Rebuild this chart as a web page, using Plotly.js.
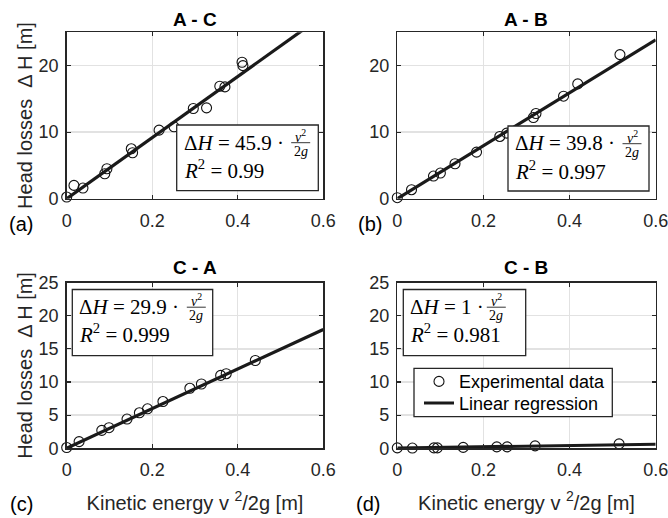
<!DOCTYPE html>
<html><head><meta charset="utf-8">
<script src="https://cdn.plot.ly/plotly-3.0.1.min.js"></script>
<style>html,body{margin:0;padding:0;background:#fff}</style>
</head><body><div id="chart" style="width:668px;height:518px"></div>
<script>
// ---------- data ----------
const panelTitles = ['A - C', 'A - B', 'C - A', 'C - B'];
const panelLabels = ['(a)', '(b)', '(c)', '(d)'];
const slopes = [45.9, 39.8, 29.9, 1];
const r2Labels = ['0.99', '0.997', '0.999', '0.981'];
const xTickVals = [0, 0.2, 0.4, 0.6];
const xRangeMax = 0.6;
const legendNames = ['Experimental data', 'Linear regression'];

const acX = [0, 0.017, 0.038, 0.089, 0.094, 0.151, 0.154, 0.216, 0.251, 0.296, 0.327, 0.358, 0.370, 0.410, 0.412];
const acY = [0.25, 2.0, 1.6, 3.75, 4.5, 7.5, 6.9, 10.3, 10.8, 13.55, 13.65, 16.9, 16.8, 20.5, 20.0];
const abX = [0, 0.033, 0.084, 0.100, 0.134, 0.184, 0.238, 0.254, 0.316, 0.322, 0.386, 0.419, 0.517];
const abY = [0.15, 1.35, 3.4, 3.85, 5.25, 7.0, 9.35, 9.85, 12.2, 12.8, 15.4, 17.25, 21.65];
const caX = [0, 0.029, 0.082, 0.099, 0.141, 0.170, 0.189, 0.225, 0.288, 0.315, 0.360, 0.373, 0.441];
const caY = [0.1, 1.0, 2.7, 3.1, 4.4, 5.35, 5.95, 7.05, 9.05, 9.7, 11.0, 11.25, 13.25];
const cbX = [0, 0.035, 0.085, 0.093, 0.153, 0.231, 0.255, 0.320, 0.515];
const cbY = [0.05, 0.02, 0.05, 0.05, 0.12, 0.2, 0.2, 0.35, 0.65];

const xs = [acX, abX, caX, cbX];
const ys = [acY, abY, caY, cbY];

// ---------- layout helpers (pixel -> paper) ----------
const W = 668, H = 518;
const px = v => v / W;
const py = v => 1 - v / H;

const boxes = [ // plot areas in px: [left, right, top, bottom]
  [66.7, 323.3, 32.3, 198.7],
  [397.3, 655.7, 32.3, 198.7],
  [66.7, 323.3, 282.7, 448.2],
  [397.3, 655.7, 282.7, 448.2]
];
const eqBoxes = [ // [L, T, R, B]
  [176.7, 125, 318.3, 190.7],
  [508, 126, 649, 191],
  [72.3, 289.5, 212.7, 355.7],
  [403.3, 289.5, 525.7, 355.7]
];
const fracOffsets = [124, 124, 124, 93];

const SANS = 'Liberation Sans, Arial, sans-serif';
const SERIF = 'Liberation Serif, Times New Roman, serif';
const AX = '#262626';

function xaxisDef(i) {
  const b = boxes[i];
  const a = {
    domain: [px(b[0]), px(b[1])], anchor: 'y' + (i ? i + 1 : ''),
    range: [0, xRangeMax], tickvals: xTickVals, ticklabeloverflow: 'allow',
    showline: true, mirror: 'allticks', linecolor: AX, linewidth: 1.5,
    ticks: 'inside', ticklen: 4, tickwidth: 1.2, tickcolor: AX, ticklabelstandoff: 5,
    showgrid: true, gridcolor: '#e2e2e2', gridwidth: 1.3, zeroline: false,
    tickfont: {family: SANS, size: 18, color: AX}, fixedrange: true
  };
  if (i >= 2) a.title = {text: 'Kinetic energy v <sup>2</sup>/2g [m]', font: {family: SANS, size: 20, color: AX}, standoff: 16};
  return a;
}
function yaxisDef(i) {
  const b = boxes[i];
  const a = {
    domain: [py(b[3]), py(b[2])], anchor: 'x' + (i ? i + 1 : ''),
    range: [0, 25], tick0: 0, dtick: i < 2 ? 10 : 5, ticklabeloverflow: 'allow',
    showline: true, mirror: 'allticks', linecolor: AX, linewidth: 1.5,
    ticks: 'inside', ticklen: 4, tickwidth: 1.2, tickcolor: AX, ticklabelstandoff: 3,
    showgrid: true, gridcolor: '#e2e2e2', gridwidth: 1.3, zeroline: false,
    tickfont: {family: SANS, size: 18, color: AX}, fixedrange: true
  };
  if (i % 2 === 0) a.title = {text: 'Head losses\u00a0\u00a0\u0394 H [m]', font: {family: SANS, size: 20, color: AX}, standoff: 0};
  return a;
}

const traces = [];
for (let i = 0; i < 4; i++) {
  const xa = 'x' + (i ? i + 1 : ''), ya = 'y' + (i ? i + 1 : '');
  traces.push({
    type: 'scatter', mode: 'markers', x: xs[i], y: ys[i], xaxis: xa, yaxis: ya,
    name: legendNames[0], showlegend: i === 3, legend: 'legend', cliponaxis: false,
    marker: {symbol: 'circle-open', size: 10, color: '#111', line: {width: 1.1, color: '#111'}}
  });
  traces.push({
    type: 'scatter', mode: 'lines', x: [0, xRangeMax], y: [0, slopes[i] * xRangeMax],
    xaxis: xa, yaxis: ya, name: legendNames[1], showlegend: i === 3, legend: 'legend2',
    line: {color: '#1a1a1a', width: 3.2}
  });
}

const annotations = [], shapes = [];
const titlePos = [[195, 19], [526, 19], [195, 267], [526, 267]];
const labelPos = [[21, 224], [370, 224], [21.5, 504], [368, 504]];
for (let i = 0; i < 4; i++) {
  annotations.push({xref: 'paper', yref: 'paper', x: px(titlePos[i][0]), y: py(titlePos[i][1]),
    xanchor: 'center', yanchor: 'middle', showarrow: false,
    text: '<b>' + panelTitles[i] + '</b>', font: {family: SANS, size: 19, color: '#000'}});
  annotations.push({xref: 'paper', yref: 'paper', x: px(labelPos[i][0]), y: py(labelPos[i][1]),
    xanchor: 'center', yanchor: 'middle', showarrow: false,
    text: panelLabels[i], font: {family: SANS, size: 20, color: '#000'}});
  const [L, T, R, B] = eqBoxes[i];
  shapes.push({type: 'rect', xref: 'paper', yref: 'paper', layer: 'above',
    x0: px(L), x1: px(R), y0: py(B), y1: py(T),
    line: {color: AX, width: 1.3}, fillcolor: '#fff'});
  annotations.push({xref: 'paper', yref: 'paper', x: px(L + 5), y: py(T + 17.5),
    xanchor: 'left', yanchor: 'middle', showarrow: false,
    text: '\u0394<i>H</i> = ' + slopes[i] + ' \u00b7', font: {family: SERIF, size: 21, color: '#000'}});
  const fc = L + fracOffsets[i];
  annotations.push({xref: 'paper', yref: 'paper', x: px(fc), y: py(T + 10.5),
    xanchor: 'center', yanchor: 'middle', showarrow: false,
    text: '<i>v</i><sup>2</sup>', font: {family: SERIF, size: 14, color: '#000'}});
  shapes.push({type: 'line', xref: 'paper', yref: 'paper', layer: 'above',
    x0: px(fc - 9.5), x1: px(fc + 9.5), y0: py(T + 17.7), y1: py(T + 17.7),
    line: {color: '#000', width: 0.8}});
  annotations.push({xref: 'paper', yref: 'paper', x: px(fc), y: py(T + 26),
    xanchor: 'center', yanchor: 'middle', showarrow: false,
    text: '2<i>g</i>', font: {family: SERIF, size: 14, color: '#000'}});
  annotations.push({xref: 'paper', yref: 'paper', x: px(L + 5), y: py(T + 44),
    xanchor: 'left', yanchor: 'middle', showarrow: false,
    text: '<i>R</i><sup>2</sup> = ' + r2Labels[i], font: {family: SERIF, size: 21, color: '#000'}});
}
// legend frame
shapes.push({type: 'rect', xref: 'paper', yref: 'paper', layer: 'above',
  x0: px(414), x1: px(612.3), y0: py(416.7), y1: py(368.3),
  line: {color: AX, width: 1.3}, fillcolor: '#fff'});

const legendCommon = {xanchor: 'left', yanchor: 'middle', bgcolor: 'rgba(0,0,0,0)', borderwidth: 0,
  font: {family: SANS, size: 18, color: '#000'}, tracegroupgap: 0};

const layout = {
  width: W, height: H, margin: {l: 0, r: 0, t: 0, b: 0},
  paper_bgcolor: '#fff', plot_bgcolor: '#fff',
  showlegend: true,
  legend: Object.assign({x: px(419), y: py(381.7)}, legendCommon),
  legend2: Object.assign({x: px(419), y: py(403.3)}, legendCommon),
  annotations: annotations, shapes: shapes
};
for (let i = 0; i < 4; i++) {
  layout['xaxis' + (i ? i + 1 : '')] = xaxisDef(i);
  layout['yaxis' + (i ? i + 1 : '')] = yaxisDef(i);
}
Plotly.newPlot('chart', traces, layout, {displayModeBar: false, staticPlot: true});
</script></body></html>
